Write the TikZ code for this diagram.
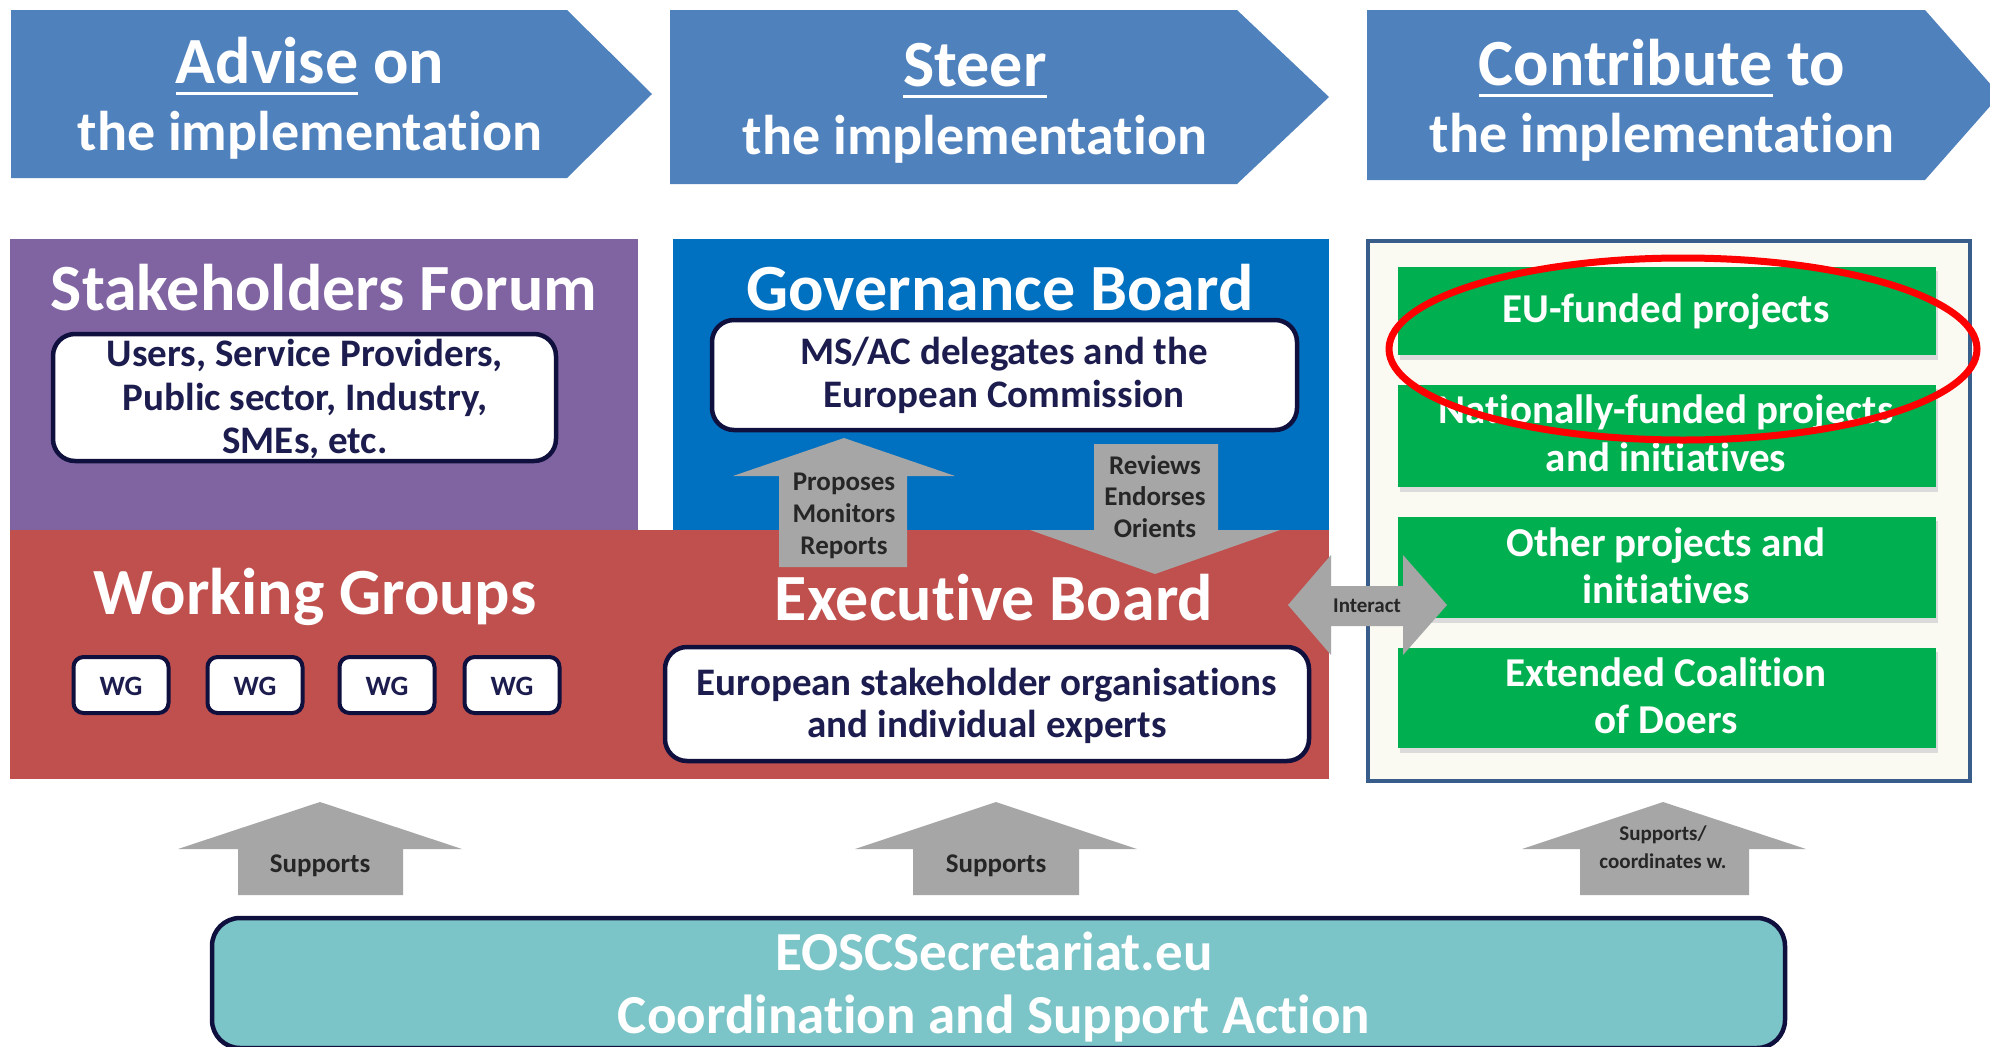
\documentclass[tikz,border=0pt]{standalone}
\usepackage{fontspec}
\setmainfont{Carlito}[Ligatures=NoCommon]
\definecolor{chev}{HTML}{4F81BD}
\definecolor{sfpurple}{HTML}{8064A2}
\definecolor{gbblue}{HTML}{0070C0}
\definecolor{ebred}{HTML}{C0504D}
\definecolor{panelfill}{HTML}{FBFAF2}
\definecolor{panelborder}{HTML}{385D8A}
\definecolor{grn}{HTML}{00B050}
\definecolor{navy}{HTML}{10103E}
\definecolor{navytext}{HTML}{1C1C4E}
\definecolor{arrowgray}{HTML}{A6A6A6}
\definecolor{arrowtext}{HTML}{262626}
\definecolor{tealbox}{HTML}{7BC4C8}
\newcommand{\ulword}[2]{\setbox0\hbox{#1}\rlap{\rule[-#2]{\wd0}{3.5pt}}\box0\relax}
\tikzset{
  base/.style={anchor=base, inner sep=0pt, outer sep=0pt},
  chevA/.style={base, text=white, font=\bfseries\fontsize{66}{70}\selectfont},
  chevB/.style={base, text=white, font=\bfseries\fontsize{56}{60}\selectfont},
  sectitle/.style={base, text=white, font=\bfseries\fontsize{66}{70}\selectfont},
  innertxt/.style={base, text=navytext, font=\bfseries\fontsize{39}{44}\selectfont},
  greentxt/.style={base, text=white, font=\bfseries\fontsize{41}{46}\selectfont},
  wgtxt/.style={base, text=navytext, font=\bfseries\fontsize{28}{30}\selectfont},
  arrtxt/.style={base, text=arrowtext, font=\bfseries\fontsize{27}{30}\selectfont},
  smalltxt/.style={base, text=arrowtext, font=\bfseries\fontsize{21}{24}\selectfont},
  eosctxt/.style={base, text=white, font=\bfseries\fontsize{55}{60}\selectfont},
  wbox/.style={draw=navy, line width=4.5pt, fill=white, rounded corners=22pt, inner sep=0pt},
  wgbox/.style={draw=navy, line width=4pt, fill=white, rounded corners=10pt, inner sep=0pt, minimum width=95pt, minimum height=56pt},
  gbox/.style={fill=grn, inner sep=0pt, minimum width=538pt},
  gshadow/.style={fill=black!14},
  grayarrow/.style={fill=arrowgray},
}
\begin{document}
\begin{tikzpicture}[x=1pt,y=-1pt]
\useasboundingbox (0,0) rectangle (1990,1047);
\fill[white] (0,0) rectangle (1990,1047);

% chevrons
\fill[chev] (11,10) -- (567,10) -- (652,94) -- (567,178) -- (11,178) -- cycle;
\fill[chev] (670,10) -- (1237,10) -- (1329,97) -- (1237,184) -- (670,184) -- cycle;
\fill[chev] (1367,10) -- (1925,10) -- (2000,95) -- (1925,180) -- (1367,180) -- cycle;
\node[chevA] (c1a) at (310,83) {\ulword{Advise}{12pt} on};
\node[chevB] (c1b) at (310,150) {the implementation};
\node[chevA] (c2a) at (975,86) {\ulword{Steer}{12pt}};
\node[chevB] (c2b) at (975,154) {the implementation};
\node[chevA] (c3a) at (1662,85) {\ulword{Contribute}{12pt} to};
\node[chevB] (c3b) at (1662,152) {the implementation};

% big panels
\fill[sfpurple] (10,239) rectangle (638,531);
\fill[gbblue] (673,239) rectangle (1329,533);
\fill[ebred] (10,530) rectangle (1329,779);

% right panel
\draw[panelborder, line width=3.5pt, fill=panelfill] (1368,241) rectangle (1970,781);
\foreach \ya/\yb in {267/355, 385/487, 517/618, 648/748}{
  \fill[gshadow] (1400,\ya+4) rectangle (1938,\yb+5);
}
\node[gbox, minimum height=88pt] (g1) at (1667,311) {};
\node[gbox, minimum height=102pt] (g2) at (1667,436) {};
\node[gbox, minimum height=101pt] (g3) at (1667,567.5) {};
\node[gbox, minimum height=100pt] (g4) at (1667,698) {};
\node[greentxt] (g1t) at (1666,322) {EU-funded projects};
\node[greentxt] (g2t) at (1666,423) {Nationally-funded projects};
\node[greentxt] (g2u) at (1666,471) {and initiatives};
\node[greentxt] (g3t) at (1666,556) {Other projects and};
\node[greentxt] (g3u) at (1666,603) {initiatives};
\node[greentxt] (g4t) at (1666,686) {Extended Coalition};
\node[greentxt] (g4u) at (1666,733) {of Doers};

% section titles
\node[sectitle] (sft) at (324,310) {Stakeholders Forum};
\node[sectitle] (gbt) at (1000,310) {Governance Board};
\node[sectitle] (wgt) at (315,614) {Working Groups};
\node[sectitle] (ebt) at (994,620) {Executive Board};

% inner white boxes
\node[wbox, minimum width=503pt, minimum height=127pt] (sfbox) at (304.5,397.5) {};
\node[innertxt] (sf1) at (305,366) {Users, Service Providers,};
\node[innertxt] (sf2) at (305,410) {Public sector, Industry,};
\node[innertxt] (sf3) at (305,453) {SMEs, etc.};

\node[wbox, minimum width=585pt, minimum height=110pt] (gbbox) at (1004.5,375) {};
\node[innertxt] (gb1) at (1004,364) {MS/AC delegates and the};
\node[innertxt] (gb2) at (1004,407) {European Commission};

\node[wbox, minimum width=644pt, minimum height=114pt] (ebbox) at (987,704) {};
\node[innertxt] (eb1) at (987,695) {European stakeholder organisations};
\node[innertxt] (eb2) at (987,737) {and individual experts};

% WG boxes
\foreach \x/\n in {121/1, 255/2, 387/3, 512/4}{
  \node[wgbox] (wg\n) at (\x,685) {};
  \node[wgtxt] (wg\n t) at (\x,695) {WG};
}

% gray block arrows
\fill[grayarrow] (779,567) -- (779,476) -- (733,476) -- (844,438) -- (955,476) -- (907,476) -- (907,567) -- cycle;
\node[arrtxt] (pm1) at (844,490) {Proposes};
\node[arrtxt] (pm2) at (844,522) {Monitors};
\node[arrtxt] (pm3) at (844,554) {Reports};

\fill[grayarrow] (1094,444) -- (1218,444) -- (1218,530) -- (1280,530) -- (1155,574) -- (1030,530) -- (1094,530) -- cycle;
\node[arrtxt] (re1) at (1155,474) {Reviews};
\node[arrtxt] (re2) at (1155,505) {Endorses};
\node[arrtxt] (re3) at (1155,537) {Orients};

\fill[grayarrow] (1288,605) -- (1331,555) -- (1331,586) -- (1403,586) -- (1403,555) -- (1447,605) -- (1403,655) -- (1403,626) -- (1331,626) -- (1331,655) -- cycle;
\node[smalltxt] (ia) at (1367,612) {Interact};

\fill[grayarrow] (238,895) -- (238,849) -- (178,849) -- (320,802) -- (462,849) -- (403,849) -- (403,895) -- cycle;
\node[arrtxt] (s1) at (320,872) {Supports};
\fill[grayarrow] (913,895) -- (913,849) -- (855,849) -- (996,802) -- (1137,849) -- (1079,849) -- (1079,895) -- cycle;
\node[arrtxt] (s2) at (996,872) {Supports};
\fill[grayarrow] (1580,895) -- (1580,849) -- (1522,849) -- (1663,802) -- (1806,849) -- (1749,849) -- (1749,895) -- cycle;
\node[smalltxt] (s3a) at (1663,840) {Supports/};
\node[smalltxt] (s3b) at (1663,868) {coordinates w.};

% red ellipse
\draw[red, line width=7pt] (1683,349) ellipse [x radius=294pt, y radius=91pt];

% EOSC box
\node[draw=navy, line width=4.5pt, fill=tealbox, rounded corners=28pt, minimum width=1573pt, minimum height=130pt, inner sep=0pt] (eosc) at (998.5,983) {};
\node[eosctxt] (e1) at (994,970) {EOSCSecretariat.eu};
\node[eosctxt] (e2) at (994,1033) {Coordination and Support Action};
\end{tikzpicture}
\end{document}
